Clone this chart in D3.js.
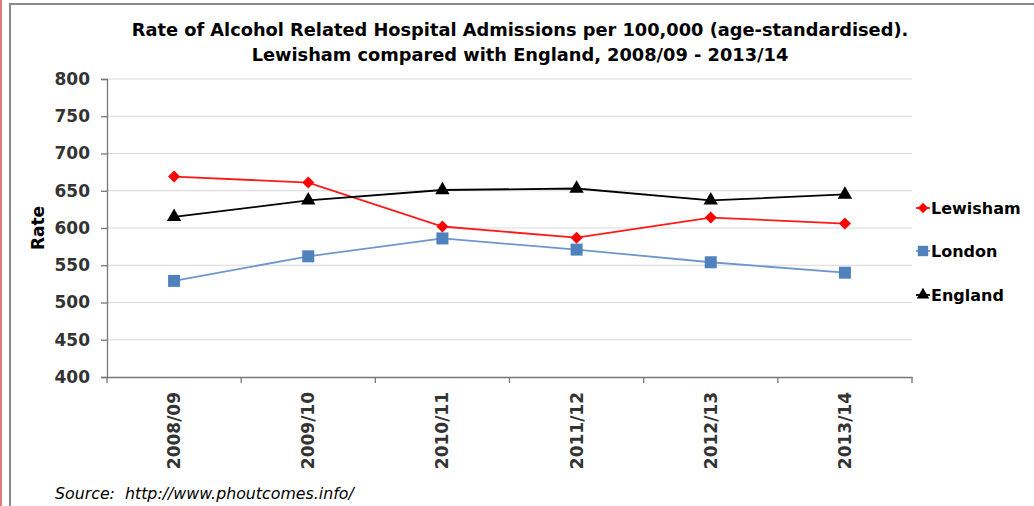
<!DOCTYPE html>
<html><head><meta charset="utf-8">
<script src="https://cdn.jsdelivr.net/npm/d3@7"></script>
<style>body{margin:0;background:#fff;} svg{display:block;}</style>
</head><body>
<svg id="c" width="1034" height="506"></svg>
<script>
const categories = ["2008/09","2009/10","2010/11","2011/12","2012/13","2013/14"];
const lewisham = [669, 661, 602, 587, 614, 606];
const london   = [529, 562, 586, 571, 554, 540];
const england  = [615, 637, 651, 653, 637, 645];
const yTicks = [400,450,500,550,600,650,700,750,800];
const seriesNames = ["Lewisham","London","England"];
const titleLines = ["Rate of Alcohol Related Hospital Admissions per 100,000 (age-standardised).",
                    "Lewisham compared with England, 2008/09 - 2013/14"];

(function(){
const svg = d3.select("#c");
const font = "'DejaVu Sans', Verdana, sans-serif";

// frame
svg.append("line").attr("x1",1).attr("x2",1).attr("y1",0).attr("y2",506).attr("stroke","#e07b7b").attr("stroke-width",2);
svg.append("rect").attr("x",10).attr("y",4).attr("width",1040).attr("height",520)
  .attr("fill","none").attr("stroke","#8a8a8a").attr("stroke-width",2);

const pl=107, pr=912, pt=79, pb=377;
const x = d3.scaleBand().domain(categories).range([pl,pr]);
const y = d3.scaleLinear().domain([400,800]).range([pb,pt]);

// gridlines
svg.append("g").selectAll("line").data(yTicks.slice(1)).join("line")
  .attr("x1",pl).attr("x2",pr).attr("y1",d=>y(d)).attr("y2",d=>y(d))
  .attr("stroke","#d9d9d9").attr("stroke-width",1.2);

// y axis
const ya = svg.append("g").attr("transform",`translate(${pl},0)`)
  .call(d3.axisLeft(y).tickValues(yTicks).tickSize(6).tickPadding(11));
ya.select(".domain").attr("stroke","#777").attr("stroke-width",1.3);
ya.selectAll(".tick line").attr("stroke","#777").attr("stroke-width",1.3);
ya.selectAll("text").attr("font-family",font).attr("font-weight","bold").attr("font-size","17px").attr("fill","#333");

// x axis
const xa = svg.append("g").attr("transform",`translate(0,${pb})`)
  .call(d3.axisBottom(x).tickSize(0).tickPadding(0));
xa.select(".domain").attr("stroke","#777").attr("stroke-width",1.3);
xa.selectAll(".tick text").remove();
const bounds = categories.map(c=>x(c)).concat([pr]);
xa.selectAll("line.b").data(bounds).join("line").attr("class","b")
  .attr("x1",d=>d).attr("x2",d=>d).attr("y1",0).attr("y2",6).attr("stroke","#777").attr("stroke-width",1.3);
xa.selectAll("text.lab").data(categories).join("text").attr("class","lab")
  .attr("transform",d=>`translate(${x(d)+x.bandwidth()/2+6},15) rotate(-90)`)
  .attr("text-anchor","end").attr("font-family",font).attr("font-weight","bold")
  .attr("font-size","17px").attr("fill","#333").text(d=>d);

// y label
svg.append("text").attr("transform",`translate(44,228) rotate(-90)`).attr("text-anchor","middle")
  .attr("font-family",font).attr("font-weight","bold").attr("font-size","17px").attr("fill","#000").text("Rate");

// title
svg.append("g").selectAll("text").data(titleLines).join("text")
  .attr("x",520).attr("y",(d,i)=>36+i*25).attr("text-anchor","middle")
  .attr("font-family",font).attr("font-weight","bold").attr("font-size","17.8px").attr("fill","#000").text(d=>d);

const cx = c=>x(c)+x.bandwidth()/2;
const line = d3.line().x((d,i)=>cx(categories[i])).y(d=>y(d));
const series = [
  {name:seriesNames[0], values:lewisham, color:"#ff1a1a", sym:d3.symbolSquare, size:72, rot:45, mcolor:"#ff0000"},
  {name:seriesNames[1], values:london, color:"#6f96cc", sym:d3.symbolSquare, size:144, rot:0, mcolor:"#4f81bd"},
  {name:seriesNames[2], values:england, color:"#000", sym:d3.symbolTriangle, size:90, rot:0, mcolor:"#000"}
];
series.forEach(s=>{
  svg.append("path").datum(s.values).attr("d",line).attr("fill","none").attr("stroke",s.color).attr("stroke-width",1.8);
  svg.append("g").selectAll("path").data(s.values).join("path")
    .attr("transform",(d,i)=>`translate(${cx(categories[i])},${y(d)}) rotate(${s.rot})`)
    .attr("d",d3.symbol().type(s.sym).size(s.size)).attr("fill",s.mcolor);
});

// legend
const legY = [208,251,295];
series.forEach((s,i)=>{
  const g = svg.append("g").attr("transform",`translate(916,${legY[i]})`);
  g.append("line").attr("x1",0).attr("x2",14).attr("stroke",s.color).attr("stroke-width",1.8);
  g.append("path").attr("transform",`translate(7,0) rotate(${s.rot})`).attr("d",d3.symbol().type(s.sym).size(s.size*0.75)).attr("fill",s.mcolor);
  g.append("text").attr("x",15).attr("y",6).attr("font-family",font).attr("font-weight","bold")
    .attr("font-size","16px").attr("fill","#000").text(s.name);
});

// source
svg.append("text").attr("x",55).attr("y",499).attr("font-family",font).attr("font-style","italic")
  .attr("font-size","15.8px").attr("fill","#000").attr("xml:space","preserve").text("Source:  http://www.phoutcomes.info/");
})();
</script>
</body></html>
